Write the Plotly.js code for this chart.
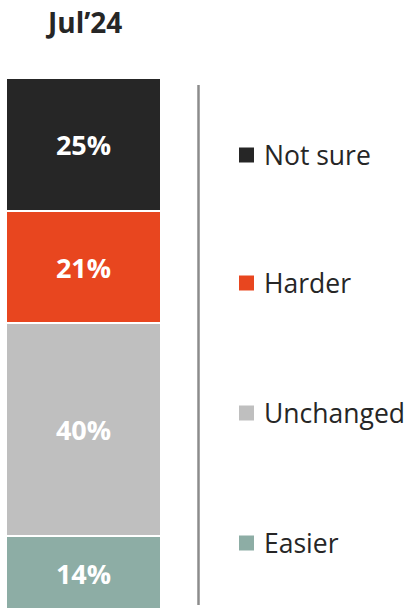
<!DOCTYPE html>
<html>
<head>
<meta charset="utf-8">
<script src="https://cdn.plot.ly/plotly-3.0.1.min.js"></script>
<style>html,body{margin:0;padding:0;background:#fff}#chart{width:416px;height:608px}</style>
</head>
<body>
<div id="chart"></div>
<script>
const period = "Jul’24";
const categories = ["Easier", "Unchanged", "Harder", "Not sure"];
const values = [14, 40, 21, 25];
const colors = ["#8DADA5", "#BFBFBF", "#E8461F", "#262626"];
const legendOrder = ["Not sure", "Harder", "Unchanged", "Easier"];

const W = 416, H = 608;
const traces = categories.map((c, i) => ({
  type: "bar",
  x: [period],
  y: [values[i]],
  name: c,
  width: 1,
  marker: {color: colors[i], line: {color: "#ffffff", width: 2}},
  text: [values[i] + "%"],
  textposition: "inside",
  insidetextanchor: "middle",
  textangle: 0,
  textfont: {family: "Open Sans", size: 27, color: "#ffffff", weight: 700},
  hoverinfo: "none",
  showlegend: false
}));

const legendY = [155, 283, 413, 543];
const shapes = [{
  type: "line", xref: "paper", yref: "paper",
  x0: 198.5 / W, x1: 198.5 / W, y0: 1 - 85 / H, y1: 1 - 605 / H,
  line: {color: "#8c8c8c", width: 2.5}
}];
const annotations = [{
  text: "<b>" + period + "</b>", xref: "paper", yref: "paper",
  x: 83 / W, y: 1 - 22 / H, xanchor: "center", yanchor: "middle",
  showarrow: false, font: {family: "Open Sans", size: 28, color: "#262626"}
}];
legendOrder.forEach((name, k) => {
  const col = colors[categories.indexOf(name)];
  const yc = legendY[k];
  shapes.push({
    type: "rect", xref: "paper", yref: "paper",
    x0: 239 / W, x1: 254 / W, y0: 1 - (yc - 7.5) / H, y1: 1 - (yc + 7.5) / H,
    fillcolor: col, line: {width: 0}
  });
  annotations.push({
    text: name, xref: "paper", yref: "paper",
    x: 262 / W, y: 1 - yc / H, xanchor: "left", yanchor: "middle",
    showarrow: false, font: {family: "Open Sans", size: 26.5, color: "#262626"}
  });
});

const layout = {
  width: W, height: H,
  margin: {l: 0, r: 0, t: 0, b: 0},
  barmode: "stack",
  paper_bgcolor: "#ffffff", plot_bgcolor: "#ffffff",
  xaxis: {domain: [6 / W, 161 / W], range: [-0.5, 0.5], visible: false, fixedrange: true},
  yaxis: {domain: [0, 1 - 78 / H], range: [0.564, 100], visible: false, fixedrange: true},
  shapes: shapes,
  annotations: annotations,
  showlegend: false
};

Plotly.newPlot("chart", traces, layout, {staticPlot: true, displayModeBar: false});
</script>
</body>
</html>
